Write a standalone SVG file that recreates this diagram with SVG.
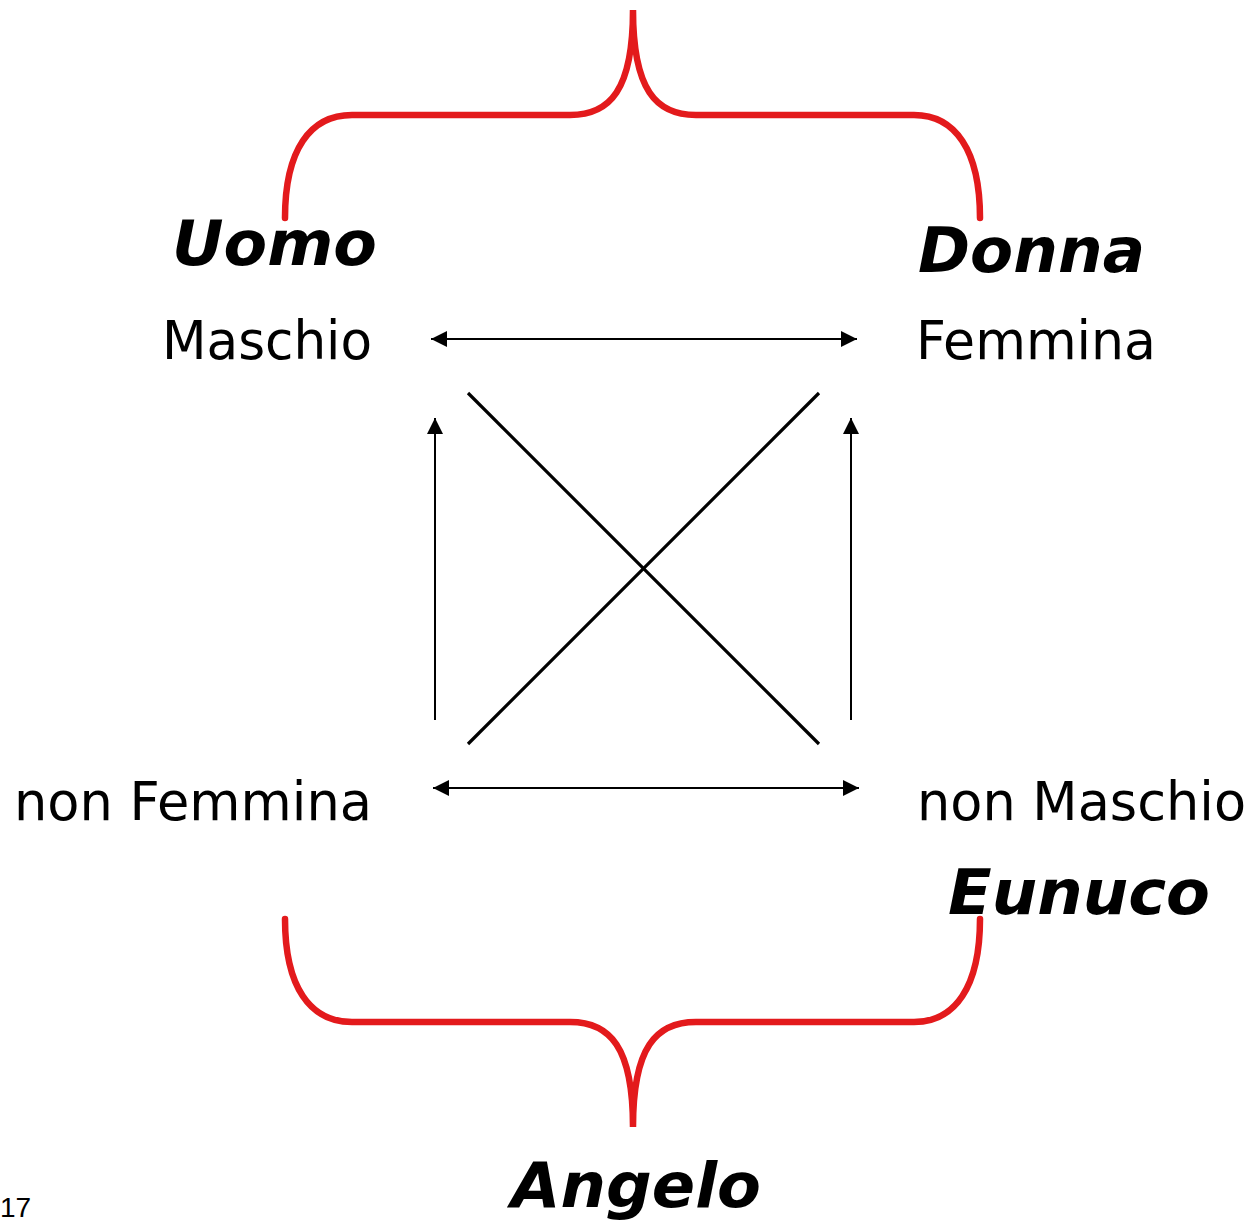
<svg xmlns="http://www.w3.org/2000/svg" width="1254" height="1222" viewBox="0 0 1254 1222">
<style>
.lbl{font-family:"DejaVu Sans",Verdana,sans-serif;font-size:53px;fill:#000}
.big{font-family:"DejaVu Sans",Verdana,sans-serif;font-size:63px;font-weight:bold;font-style:italic;fill:#000}
.pg{font-family:"Liberation Sans",Arial,sans-serif;font-size:28px;fill:#000}
.brace{fill:none;stroke:#e31a1c;stroke-width:6.5;stroke-linecap:round}
.arr{stroke:#000;stroke-width:2;fill:none}
.diag{stroke:#000;stroke-width:3.2;fill:none}
</style>
<defs>
<marker id="ah" markerUnits="userSpaceOnUse" markerWidth="18" markerHeight="18" viewBox="0 0 18 18" refX="16" refY="9" orient="auto-start-reverse">
<path d="M0,1 L16,9 L0,17 Z" fill="#000"/>
</marker>
</defs>
<rect width="1254" height="1222" fill="#fff"/>
<g id="braces">
<path class="brace" d="M285,218 C285,150 310,115 352,115 L570,115 C610,115 633,90 633,10 C633,90 656,115 696,115 L914,115 C955,115 980,150 980,218"/>
<path class="brace" d="M285,919 C285,987 310,1022 352,1022 L570,1022 C610,1022 633,1047 633,1127 C633,1047 656,1022 696,1022 L914,1022 C955,1022 980,987 980,919"/>
</g>
<g id="connectors">
<line class="arr" x1="431" y1="339" x2="857" y2="339" marker-start="url(#ah)" marker-end="url(#ah)"/>
<line class="arr" x1="433" y1="788" x2="859" y2="788" marker-start="url(#ah)" marker-end="url(#ah)"/>
<line class="arr" x1="435" y1="720" x2="435" y2="418" marker-end="url(#ah)"/>
<line class="arr" x1="851" y1="720" x2="851" y2="418" marker-end="url(#ah)"/>
<line class="diag" x1="468" y1="393" x2="819" y2="744"/>
<line class="diag" x1="819" y1="393" x2="468" y2="744"/>
</g>
<g id="node-uomo"><text class="big" x="172" y="265" textLength="205" lengthAdjust="spacingAndGlyphs">Uomo</text></g>
<g id="node-donna"><text class="big" x="918" y="272" textLength="227" lengthAdjust="spacingAndGlyphs">Donna</text></g>
<g id="node-maschio"><text class="lbl" x="162" y="359" textLength="210" lengthAdjust="spacingAndGlyphs">Maschio</text></g>
<g id="node-femmina"><text class="lbl" x="916" y="359" textLength="240" lengthAdjust="spacingAndGlyphs">Femmina</text></g>
<g id="node-nonfemmina"><text class="lbl" x="14" y="820" textLength="358" lengthAdjust="spacingAndGlyphs">non Femmina</text></g>
<g id="node-nonmaschio"><text class="lbl" x="917" y="820" textLength="329" lengthAdjust="spacingAndGlyphs">non Maschio</text></g>
<g id="node-eunuco"><text class="big" x="948" y="914" textLength="262" lengthAdjust="spacingAndGlyphs">Eunuco</text></g>
<g id="node-angelo"><text class="big" x="511" y="1207" textLength="250" lengthAdjust="spacingAndGlyphs">Angelo</text></g>
<text class="pg" x="0" y="1217">17</text>
</svg>
